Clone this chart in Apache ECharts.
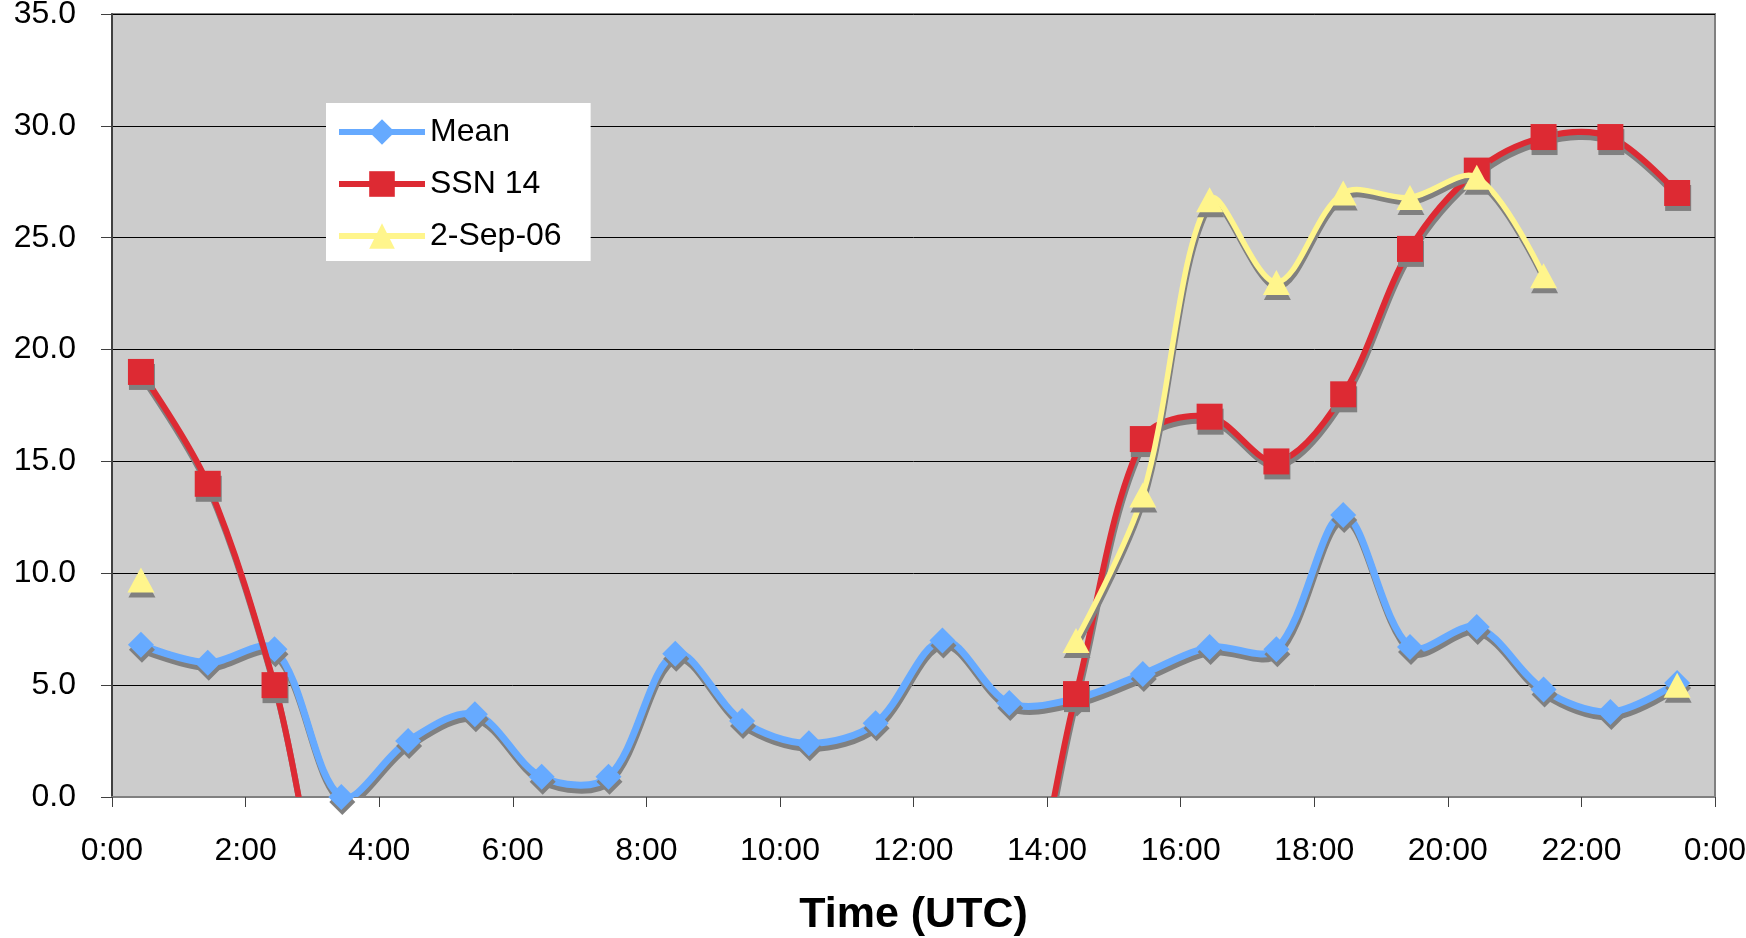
<!DOCTYPE html>
<html>
<head>
<meta charset="utf-8">
<script src="https://cdn.jsdelivr.net/npm/echarts@6/dist/echarts.min.js"></script>
<style>
  html, body { margin: 0; padding: 0; background: #ffffff; }
  #chart { width: 1746px; height: 938px; }
</style>
</head>
<body>
<div id="chart"></div>
<script>
// Hourly observation times (UTC)
const times = ['0:26', '1:26', '2:26', '3:26', '4:26', '5:26', '6:26', '7:26',
               '8:26', '9:26', '10:26', '11:26', '12:26', '13:26', '14:26', '15:26',
               '16:26', '17:26', '18:26', '19:26', '20:26', '21:26', '22:26', '23:26'];

// Series values
const meanValues = [6.8, 6.0, 6.6, 0.0, 2.5, 3.7, 0.9, 0.9, 6.4, 3.4, 2.4, 3.3,
                    7.0, 4.2, 4.4, 5.5, 6.7, 6.6, 12.6, 6.7, 7.6, 4.8, 3.8, 5.1];
const ssn14Values = [19.0, 14.0, 5.0, -7, -7, -7, -7, -7, -7, -7, -7, -7,
                     -7, -7, 4.6, 16.0, 17.0, 15.0, 18.0, 24.5, 28.0, 29.5, 29.5, 27.0];
const sep06Values = [9.7, null, null, null, null, null, null, null, null, null, null, null,
                     null, null, 7.0, 13.5, 26.7, 23.0, 27.0, 26.8, 27.7, 23.3, null, 5.0];

// Axis ticks
const xTicks = ['0:00', '2:00', '4:00', '6:00', '8:00', '10:00', '12:00',
                '14:00', '16:00', '18:00', '20:00', '22:00', '0:00'];
const yTicks = ['0.0', '5.0', '10.0', '15.0', '20.0', '25.0', '30.0', '35.0'];

const FONT = 'Liberation Sans, Arial, sans-serif';
const SHADOW = '#808080';
const SMOOTH = 0.33;

function toHours(t) {
  const parts = t.split(':');
  return Number(parts[0]) + Number(parts[1]) / 60;
}
function pairs(values) {
  return values.map((v, i) => [toHours(times[i]), v]);
}

// Smoothed curve through the points (free-form bezier, may overshoot between points)
function curveSeries(values, color, width, z) {
  return {
    type: 'custom',
    coordinateSystem: 'cartesian2d',
    clip: true,
    silent: true,
    z: z,
    animation: false,
    data: pairs(values),
    renderItem: function (params, api) {
      if (params.dataIndex !== 0) return null;
      const runs = [];
      let cur = [];
      values.forEach((v, i) => {
        if (v == null) {
          if (cur.length) runs.push(cur);
          cur = [];
        } else {
          cur.push(api.coord([toHours(times[i]), v]));
        }
      });
      if (cur.length) runs.push(cur);
      return {
        type: 'group',
        children: runs.filter(r => r.length > 1).map(pts => ({
          type: 'polyline',
          shape: { points: pts, smooth: SMOOTH },
          style: {
            fill: 'none', stroke: color, lineWidth: width,
            lineJoin: 'round', lineCap: 'round',
            shadowColor: SHADOW, shadowBlur: 0, shadowOffsetX: 1, shadowOffsetY: 5
          }
        }))
      };
    }
  };
}

// Point markers (and legend entry) for a series
function markerSeries(name, values, color, symbol, symbolSize, z) {
  return {
    name: name,
    type: 'line',
    data: pairs(values),
    clip: true,
    z: z,
    symbol: symbol,
    symbolSize: symbolSize,
    showSymbol: true,
    showAllSymbol: true,
    lineStyle: { color: color, width: 0, opacity: 0 },
    itemStyle: {
      color: color, borderWidth: 0,
      shadowColor: SHADOW, shadowBlur: 0, shadowOffsetX: 1, shadowOffsetY: 5
    },
    emphasis: { disabled: true },
    animation: false
  };
}

const BLUE = '#66aaff', RED = '#dd2a33', YELLOW = '#fff58c';
const noShadow = { shadowColor: 'rgba(0,0,0,0)', shadowOffsetX: 0, shadowOffsetY: 0, shadowBlur: 0 };

const chart = echarts.init(document.getElementById('chart'), null, { renderer: 'canvas' });
chart.setOption({
  animation: false,
  backgroundColor: '#ffffff',
  textStyle: { fontFamily: FONT, color: '#000' },
  grid: {
    left: 112, right: 31, top: 14, bottom: 141,
    show: true,
    backgroundColor: '#cccccc',
    borderColor: '#808080',
    borderWidth: 2,
    containLabel: false,
    outerBoundsMode: 'none'
  },
  legend: {
    orient: 'vertical',
    left: 326, top: 103, z: 10,
    backgroundColor: '#ffffff',
    padding: [13, 29, 9, 10],
    itemWidth: 86, itemHeight: 32, itemGap: 20,
    selectedMode: false,
    textStyle: { fontSize: 32, color: '#000', fontFamily: FONT },
    itemStyle: Object.assign({}, noShadow),
    lineStyle: Object.assign({ width: 6, opacity: 1 }, noShadow),
    data: [
      { name: 'Mean', lineStyle: Object.assign({ color: BLUE, width: 6, opacity: 1 }, noShadow) },
      { name: 'SSN 14', lineStyle: Object.assign({ color: RED, width: 6, opacity: 1 }, noShadow) },
      { name: '2-Sep-06', lineStyle: Object.assign({ color: YELLOW, width: 6, opacity: 1 }, noShadow) }
    ]
  },
  xAxis: {
    type: 'value',
    min: 0, max: 24, interval: 2,
    name: 'Time (UTC)',
    nameLocation: 'middle',
    nameGap: 97,
    nameTextStyle: { fontSize: 43, fontWeight: 'bold', color: '#000', fontFamily: FONT },
    axisLine: { show: true, onZero: false, lineStyle: { color: '#808080', width: 2 } },
    axisTick: { show: true, length: 10, lineStyle: { color: '#404040', width: 1 } },
    axisLabel: {
      fontSize: 32, color: '#000', margin: 38,
      showMinLabel: true, showMaxLabel: true,
      formatter: v => xTicks[Math.round(v / 2)]
    },
    splitLine: { show: false }
  },
  yAxis: {
    type: 'value',
    min: 0, max: 35, interval: 5,
    axisLine: { show: true, lineStyle: { color: '#404040', width: 2 } },
    axisTick: { show: true, length: 11, lineStyle: { color: '#404040', width: 1 } },
    axisLabel: {
      fontSize: 32, color: '#000', margin: 36,
      showMinLabel: true, showMaxLabel: true,
      formatter: v => yTicks[Math.round(v / 5)]
    },
    splitLine: { show: true, lineStyle: { color: '#000', width: 1 } }
  },
  series: [
    curveSeries(meanValues, BLUE, 7, 2),
    markerSeries('Mean', meanValues, BLUE, 'diamond', 26, 3),
    curveSeries(ssn14Values, RED, 6, 4),
    markerSeries('SSN 14', ssn14Values, RED, 'rect', 26, 5),
    curveSeries(sep06Values, YELLOW, 5.5, 6),
    markerSeries('2-Sep-06', sep06Values, YELLOW, 'triangle', [27, 25], 7)
  ]
});
</script>
</body>
</html>
